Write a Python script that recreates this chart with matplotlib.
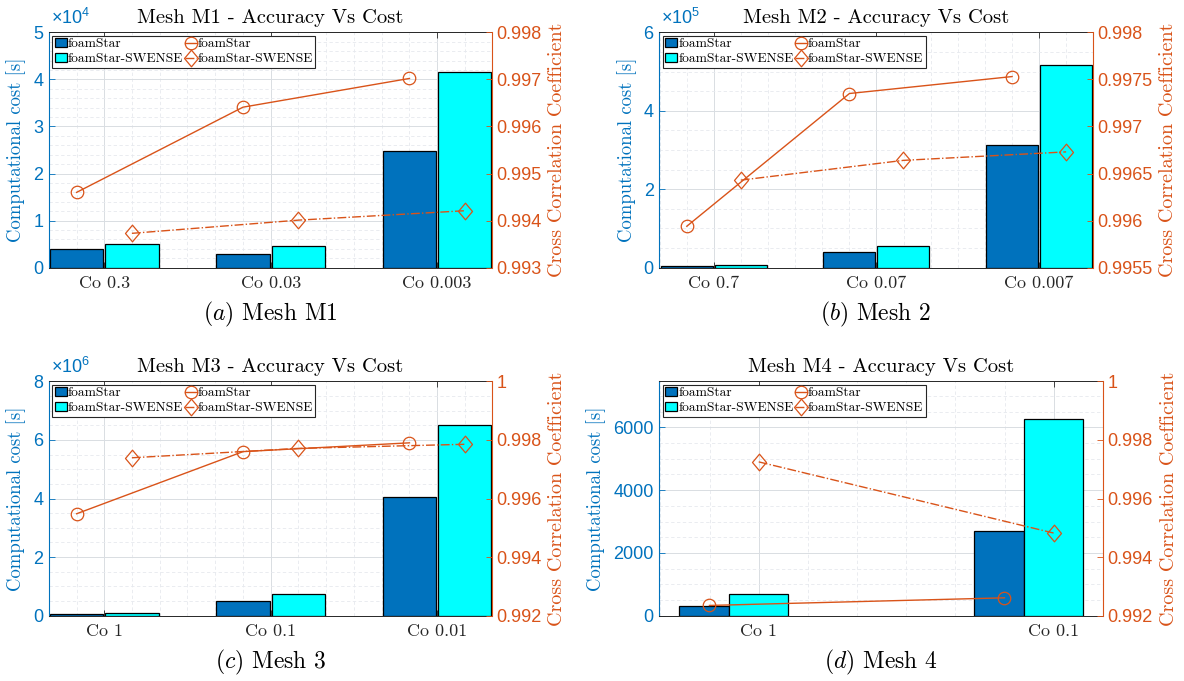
import numpy as np
import matplotlib
matplotlib.use('Agg')
import matplotlib.pyplot as plt
from matplotlib.ticker import FixedLocator, MultipleLocator, FuncFormatter, AutoMinorLocator
from matplotlib.path import Path

# ---------------- data ----------------
titles = ['Mesh M1 - Accuracy Vs Cost', 'Mesh M2 - Accuracy Vs Cost',
          'Mesh M3 - Accuracy Vs Cost', 'Mesh M4 - Accuracy Vs Cost']
captions = [r'$\mathit{(a)}$ Mesh M1', r'$\mathit{(b)}$ Mesh 2',
            r'$\mathit{(c)}$ Mesh 3', r'$\mathit{(d)}$ Mesh 4']
legend_labels = ['foamStar', 'foamStar-SWENSE', 'foamStar', 'foamStar-SWENSE']

cats_a = ['Co 0.3', 'Co 0.03', 'Co 0.003']
cost_foam_a = [4040, 2900, 24800]
cost_swense_a = [4980, 4700, 41500]
corr_foam_a = [0.99460, 0.99641, 0.99702]
corr_swense_a = [0.99373, 0.99401, 0.99421]

cats_b = ['Co 0.7', 'Co 0.07', 'Co 0.007']
cost_foam_b = [5000, 40800, 314000]
cost_swense_b = [6800, 56000, 516000]
corr_foam_b = [0.99594, 0.99735, 0.99753]
corr_swense_b = [0.99643, 0.99664, 0.99673]

cats_c = ['Co 1', 'Co 0.1', 'Co 0.01']
cost_foam_c = [57000, 490000, 4050000]
cost_swense_c = [80000, 740000, 6500000]
corr_foam_c = [0.99548, 0.99760, 0.99790]
corr_swense_c = [0.99739, 0.99771, 0.99785]

cats_d = ['Co 1', 'Co 0.1']
cost_foam_d = [300, 2690]
cost_swense_d = [690, 6280]
corr_foam_d = [0.99235, 0.99261]
corr_swense_d = [0.99725, 0.99482]

left_ticks_a = [0, 1e4, 2e4, 3e4, 4e4, 5e4]
left_ticks_b = [0, 2e5, 4e5, 6e5]
left_ticks_c = [0, 2e6, 4e6, 6e6, 8e6]
left_ticks_d = [0, 2000, 4000, 6000]
right_ticks_a = [0.993, 0.994, 0.995, 0.996, 0.997, 0.998]
right_ticks_b = [0.9955, 0.996, 0.9965, 0.997, 0.9975, 0.998]
right_ticks_c = [0.992, 0.994, 0.996, 0.998, 1.0]
right_ticks_d = [0.992, 0.994, 0.996, 0.998, 1.0]

# ---------------- style ----------------
BLUE = '#0072BD'
CYAN = '#00FFFF'
ORANGE = '#D95319'
DARK = '#262626'
SERIF = 'cmr10'
SANS = 'Liberation Sans'

plt.rcParams['font.family'] = [SANS, 'DejaVu Sans']
plt.rcParams['mathtext.fontset'] = 'custom'
plt.rcParams['mathtext.rm'] = SANS
plt.rcParams['mathtext.it'] = SANS + ':italic'

diamond = Path([(0, 1), (0.84, 0), (0, -1), (-0.84, 0), (0, 1)],
               [Path.MOVETO, Path.LINETO, Path.LINETO, Path.LINETO, Path.CLOSEPOLY])

fig = plt.figure(figsize=(11.84, 6.81), dpi=100)

W, H = 1184.0, 681.0


def rect(l, r, t, b):
    return [l / W, (H - b) / H, (r - l) / W, (b - t) / H]


def panel(rc, title, caption, cats, cf, cs, rf, rs, lticks, llim, exp,
          rticks, rlim, xlim, boff, bw, moff):
    ax = fig.add_axes(rc)
    ax2 = ax.twinx()
    x = np.arange(1, len(cats) + 1)
    bf = ax.bar(x + boff[0], cf, width=bw[0], color=BLUE, edgecolor='black',
                linewidth=0.9, zorder=2)
    bs = ax.bar(x + boff[1], cs, width=bw[1], color=CYAN, edgecolor='black',
                linewidth=0.9, zorder=2)
    lf, = ax2.plot(x + moff[0], rf, '-', color=ORANGE, lw=1.0, marker='o',
                   ms=9, mfc='none', mec=ORANGE, mew=0.9)
    ls, = ax2.plot(x + moff[1], rs, '-.', color=ORANGE, lw=1.0, marker=diamond,
                   ms=12, mfc='none', mec=ORANGE, mew=0.9)
    ax.set_xlim(xlim)
    ax.set_ylim(llim)
    ax2.set_ylim(rlim)

    ax.xaxis.set_major_locator(FixedLocator(list(x)))
    ax.set_xticklabels(cats, fontfamily=SERIF, fontsize=13, color=DARK)
    ax.xaxis.set_minor_locator(MultipleLocator(1 / 6))
    ax.yaxis.set_major_locator(FixedLocator(lticks))
    ax.yaxis.set_minor_locator(AutoMinorLocator())
    if exp:
        sc = 10.0 ** exp
        ax.yaxis.set_major_formatter(FuncFormatter(lambda v, p: f'{v / sc:g}'))
        ax.annotate(r'$\times10^{%d}$' % exp, xy=(0, 1), xycoords='axes fraction',
                    xytext=(1.5, 3), textcoords='offset points', ha='left',
                    va='bottom', color=BLUE, fontsize=13)
    else:
        ax.yaxis.set_major_formatter(FuncFormatter(lambda v, p: f'{v:g}'))
    ax2.yaxis.set_major_locator(FixedLocator(rticks))
    ax2.yaxis.set_major_formatter(FuncFormatter(lambda v, p: f'{v:g}'))
    ax2.yaxis.set_minor_locator(AutoMinorLocator())

    ax.tick_params(axis='x', which='major', direction='in', length=4, top=True,
                   color=DARK, pad=6, width=0.6)
    ax.tick_params(axis='x', which='minor', length=0, top=True)
    ax.tick_params(axis='y', which='major', direction='in', length=4,
                   color=BLUE, labelcolor=BLUE, labelsize=13, pad=4, width=0.6)
    ax.tick_params(axis='y', which='minor', length=0)
    ax2.tick_params(axis='y', which='major', direction='in', length=4,
                    color=ORANGE, labelcolor=ORANGE, labelsize=13, pad=3, width=0.6)
    ax2.tick_params(axis='y', which='minor', length=0)

    ax.set_axisbelow(True)
    ax.grid(True, which='major', color='#d9dde2', lw=0.7)
    ax.grid(True, which='minor', color='#e6e9ee', lw=0.6, ls=(0, (4, 3)))
    ax2.grid(False)

    for s in ('top', 'bottom'):
        ax.spines[s].set_color(DARK)
        ax.spines[s].set_linewidth(0.7)
        ax2.spines[s].set_visible(False)
    ax.spines['left'].set_color(BLUE)
    ax.spines['right'].set_visible(False)
    ax2.spines['left'].set_visible(False)
    ax2.spines['right'].set_color(ORANGE)
    ax.spines['left'].set_linewidth(0.8)
    ax2.spines['right'].set_linewidth(0.8)

    ax.set_ylabel('Computational cost [s]', fontfamily=SERIF, fontsize=13.5,
                  color=BLUE, labelpad=5)
    ax2.set_ylabel('Cross Correlation Coefficient', fontfamily=SERIF,
                   fontsize=14.5, color=ORANGE, rotation=90, labelpad=5)
    ax.set_title(title, fontfamily=SERIF, fontsize=14.8, color='black', pad=7)
    ax.text(0.5, -0.2, caption, transform=ax.transAxes, ha='center',
            va='center', fontsize=17, fontfamily=SERIF, math_fontfamily='cm',
            color='black')

    leg = ax2.legend([bf, bs, lf, ls], legend_labels, ncol=2, loc='upper left',
                     prop={'family': SERIF, 'size': 9.7}, frameon=True,
                     fancybox=False, edgecolor=DARK, framealpha=1,
                     borderpad=0.2, labelspacing=0.2, handlelength=0.9,
                     handleheight=0.6, handletextpad=0.05, columnspacing=0.1,
                     borderaxespad=0.25)
    leg.get_frame().set_linewidth(0.8)
    return ax, ax2


xl3 = (0.668, 3.33)
boff3 = (-0.166, 0.166)
bw3 = (0.32, 0.32)

panel(rect(49, 492, 32.3, 267.7), titles[0], captions[0], cats_a,
      cost_foam_a, cost_swense_a, corr_foam_a, corr_swense_a,
      left_ticks_a, (0, 5e4), 4, right_ticks_a, (0.993, 0.998),
      xl3, boff3, bw3, boff3)

panel(rect(659.3, 1092.8, 32.3, 267.7), titles[1], captions[1], cats_b,
      cost_foam_b, cost_swense_b, corr_foam_b, corr_swense_b,
      left_ticks_b, (0, 6e5), 5, right_ticks_b, (0.9955, 0.998),
      (0.665, 3.33), boff3, bw3, boff3)

panel(rect(49, 492, 381.3, 615.7), titles[2], captions[2], cats_c,
      cost_foam_c, cost_swense_c, corr_foam_c, corr_swense_c,
      left_ticks_c, (0, 8e6), 6, right_ticks_c, (0.992, 1.0),
      xl3, boff3, bw3, boff3)

panel(rect(659.3, 1103.3, 381.3, 615.7), titles[3], captions[3], cats_d,
      cost_foam_d, cost_swense_d, corr_foam_d, corr_swense_d,
      left_ticks_d, (0, 7470), 0, right_ticks_d, (0.992, 1.0),
      (0.663, 2.168), (-0.185, 0.0), (0.168, 0.2), (-0.167, 0.0))

fig.savefig('out.png', dpi=100)
